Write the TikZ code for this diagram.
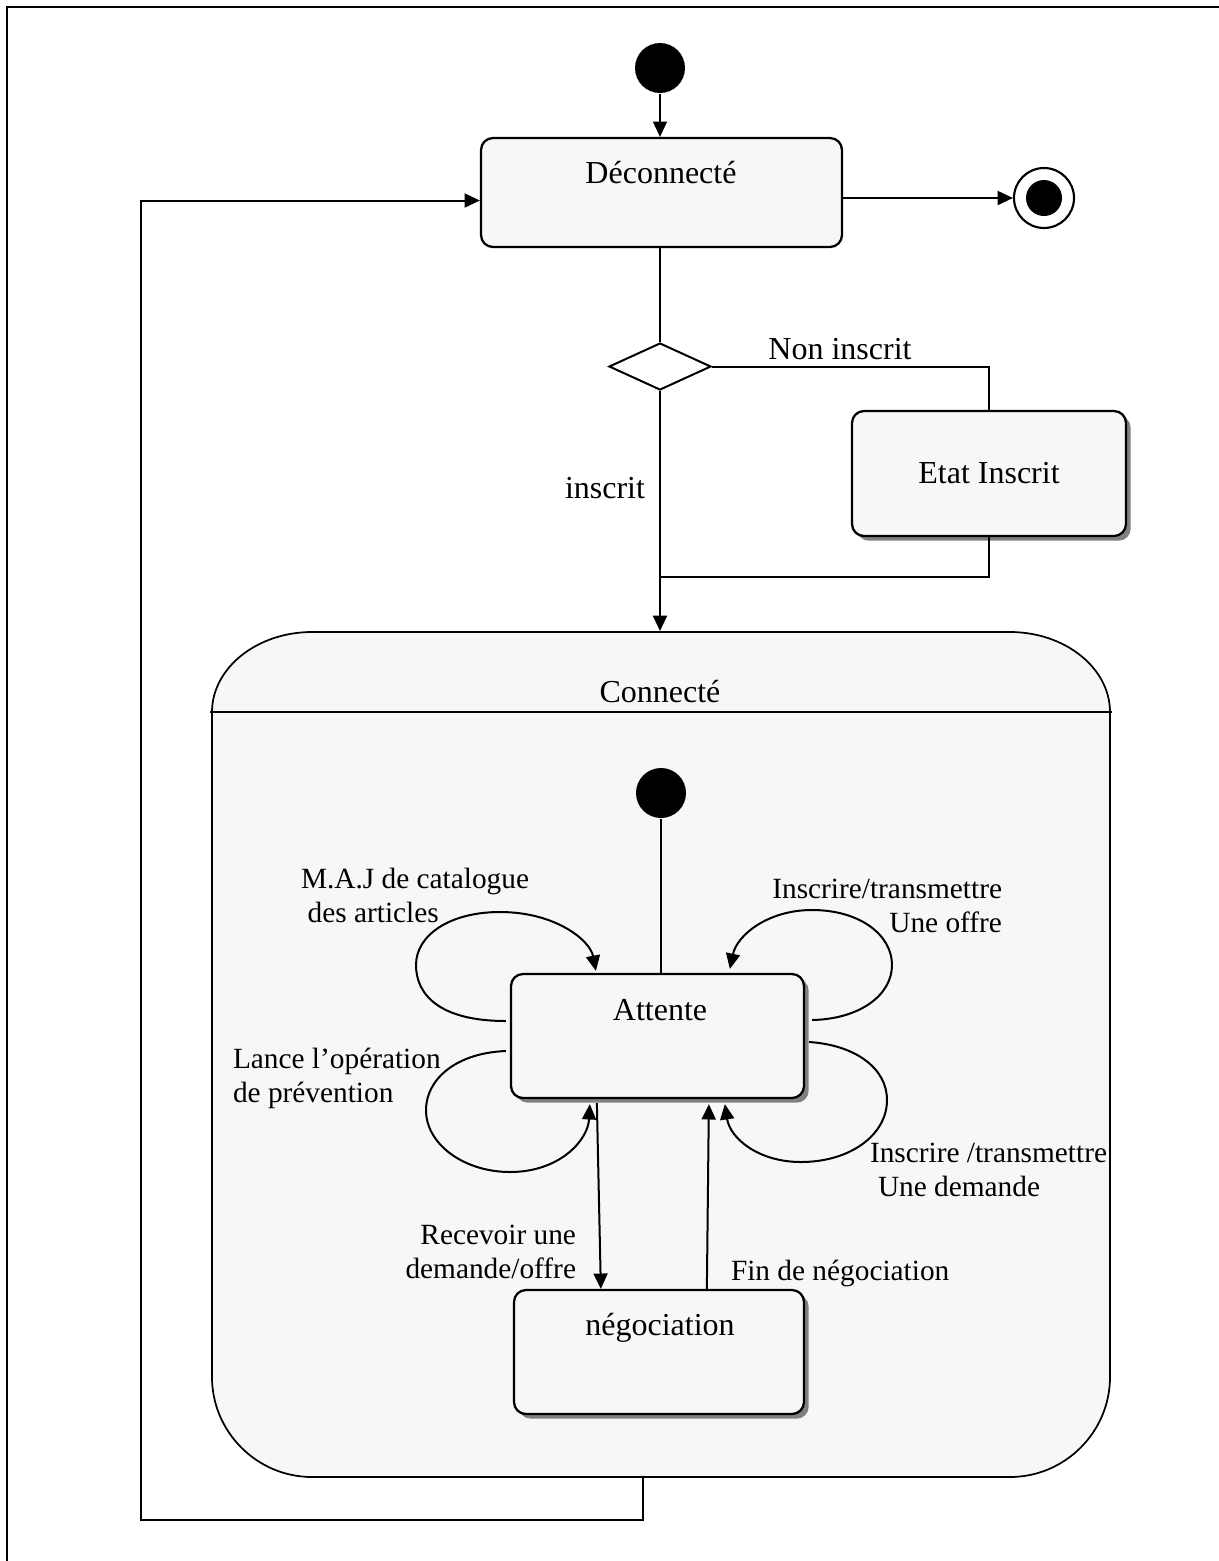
\documentclass[tikz,border=0pt]{standalone}
\usepackage{fontspec}
\setmainfont{Liberation Serif}
\usetikzlibrary{arrows.meta,shapes.geometric,shadows,calc}
\definecolor{statefill}{HTML}{F7F7F7}
\def\pxu{0.75pt}

\begin{document}
\begin{tikzpicture}[x=0.75pt,y=-0.75pt,
  line width=1.5pt,
  >={Triangle[length=11.5pt,width=10.5pt]},
  stbox/.style={draw, line width=1.7pt, fill=statefill, rounded corners=9pt, inner sep=0pt},
  shadowed/.style={drop shadow={shadow xshift=3.5pt, shadow yshift=-3.5pt, fill=black!50, opacity=1}},
  bigtxt/.style={font=\fontsize{24pt}{28pt}\selectfont, inner sep=0pt},
  smalltxt/.style={font=\fontsize{22pt}{25.5pt}\selectfont, inner sep=0pt},
  startdot/.style={circle, fill=black, minimum size=37.5pt, inner sep=0pt},
]
\useasboundingbox (0,0) rectangle (1219,1561);

% page frame
\draw[line width=1.8pt] (7,1561) -- (7,7) -- (1219,7);

% composite state "Connecté"
\draw[line width=1.3pt, fill=statefill] (212,712) .. controls (212,668) and (257,632) .. (312,632)
  -- (1010,632) .. controls (1065,632) and (1110,668) .. (1110,712)
  -- (1110,1377) .. controls (1110,1432) and (1065,1477) .. (1010,1477)
  -- (312,1477) .. controls (257,1477) and (212,1432) .. (212,1377) -- cycle;
\draw[line width=1.5pt] (210,712) -- (1112,712);
\node[minimum width=898*\pxu, minimum height=845*\pxu, inner sep=0pt] (con) at (661,1054.5) {};
\node[bigtxt] at (660,692) {Connecté};

% top level states
\node[startdot] (s0) at (660,68) {};
\node[stbox, minimum width=361*\pxu, minimum height=109*\pxu] (dec) at (661.5,192.5) {};
\node[bigtxt] at (661,173) {Déconnecté};
\node[circle, draw, line width=1.6pt, fill=white, minimum size=60*\pxu, inner sep=0pt] (fin) at (1044,198) {};
\node[circle, fill=black, minimum size=36*\pxu, inner sep=0pt] at (fin.center) {};
\node[diamond, draw, fill=white, minimum width=102*\pxu, minimum height=47*\pxu, inner sep=0pt] (dia) at (660,366.5) {};
\node[stbox, shadowed, minimum width=274*\pxu, minimum height=125*\pxu, font=\fontsize{24pt}{28pt}\selectfont] (ins) at (989,473.5) {Etat Inscrit};

% inner states
\node[startdot] (s1) at (661,793) {};
\node[stbox, shadowed, minimum width=293*\pxu, minimum height=124*\pxu] (att) at (657.5,1036) {};
\node[bigtxt] at (660,1010) {Attente};
\node[stbox, shadowed, minimum width=290*\pxu, minimum height=124*\pxu] (neg) at (659,1352) {};
\node[bigtxt] at (660,1328) {négociation};

% top level transitions
\draw[->] (s0.south) -- (s0.south |- dec.north);
\draw[->] (dec.east |- fin) -- (fin.west);
\draw (dia.north |- dec.south) -- (dia.north);
\draw (dia.east) -| (ins.north);
\coordinate (join) at (660,577);
\draw (ins.south) |- (join);
\draw[->] (dia.south) -- (dia.south |- con.north);
\draw[->] ($(con.south)+(-18,0)$) |- (141,1520) |- ($(dec.west)+(0,8)$);
\node[bigtxt] at (840,349) {Non inscrit};
\node[bigtxt] at (605,488) {inscrit};

% inner transitions
\draw (s1.south) -- (s1.south |- att.north);
\draw[->] ($(att.west)+(-4,-15)$) .. controls (440,1021) and (416,995) .. (416,965)
  .. controls (416,935) and (450,912) .. (500,912)
  .. controls (555,912) and (590,940) .. ($(att.north west)+(86,-2)$);
\draw[->] ($(att.west)+(-4,15)$) .. controls (455,1053) and (426,1080) .. (426,1110)
  .. controls (426,1145) and (465,1172) .. (510,1172)
  .. controls (560,1172) and (588,1140) .. ($(att.south west)+(80,5)$);
\draw[->] ($(att.east)+(7,-16)$) .. controls (860,1019) and (892,995) .. (892,965)
  .. controls (892,935) and (860,910) .. (812,910)
  .. controls (768,910) and (737,935) .. ($(att.north west)+(220,-4)$);
\draw[->] ($(att.east)+(4,6)$) .. controls (855,1045) and (887,1068) .. (887,1100)
  .. controls (887,1135) and (850,1162) .. (801,1162)
  .. controls (758,1162) and (730,1138) .. ($(att.south west)+(215,5)$);
\draw[->] ($(att.south west)+(87,4)$) -- ($(neg.north west)+(88,0)$);
\draw[->] ($(neg.north west)+(194,0)$) -- ($(att.south west)+(199,5)$);

% transition labels
\node[smalltxt, align=left, anchor=west] at (300,895) {M.A.J de catalogue\\\hspace*{5pt}des articles};
\node[smalltxt, align=left, anchor=west] at (232,1078) {Lance l’opération\\de prévention};
\node[smalltxt, align=right, anchor=east] at (1003,906) {Inscrire/transmettre\\Une offre};
\node[smalltxt, align=left, anchor=west] at (869,1170) {Inscrire /transmettre\\\hspace*{6pt}Une demande};
\node[smalltxt, align=right, anchor=east] at (577,1252) {Recevoir une\\demande/offre};
\node[smalltxt, anchor=west] at (730,1273) {Fin de négociation};
\end{tikzpicture}
\end{document}
